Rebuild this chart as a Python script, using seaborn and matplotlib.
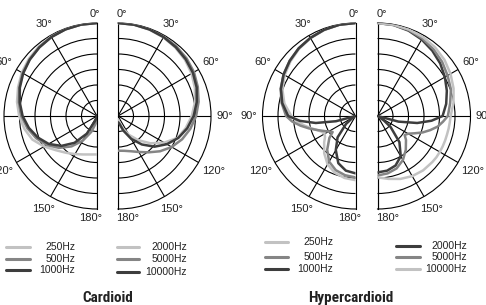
import numpy as np
import pandas as pd
import matplotlib
matplotlib.use("Agg")
import matplotlib.pyplot as plt
from matplotlib.lines import Line2D
from matplotlib.transforms import ScaledTranslation
from matplotlib import font_manager
import seaborn as sns

# polar response in dB (0 = on axis)
card_angles = [0, 10, 20, 30, 40, 50, 60, 70, 80, 90, 100, 110, 120, 130, 140, 150, 160, 170, 180]
card_250 = [0, -0.05, -0.2, -0.4, -0.8, -1.3, -2.0, -2.9, -3.8, -4.9, -6.2, -7.8, -10.3, -12.8, -14.5, -15.8, -16.8, -17.4, -17.6]
card_500 = [0, -0.06, -0.25, -0.5, -1.0, -1.6, -2.3, -3.3, -4.4, -5.6, -7.2, -9.1, -11.3, -14.0, -17.2, -20.8, -24.5, -27.5, -28.5]
card_1000 = [0, -0.07, -0.27, -0.6, -1.1, -1.7, -2.5, -3.5, -4.7, -6.0, -7.7, -9.7, -12.0, -15.0, -18.7, -23.4, -28.5, -30, -30]
card_2000 = [0, -0.1, -0.35, -0.7, -1.2, -1.8, -2.6, -3.6, -4.8, -6.2, -7.8, -9.5, -12.8, -16.3, -19.8, -23.0, -26.0, -28.0, -29.0]
card_5000 = [0, -0.05, -0.2, -0.4, -0.7, -1.1, -1.7, -2.6, -3.6, -4.8, -6.3, -8.0, -10.0, -12.3, -14.7, -16.6, -17.9, -18.6, -18.8]
card_10000 = [0, -0.1, -0.3, -0.6, -1.0, -1.5, -2.1, -3.0, -4.2, -5.6, -7.3, -9.3, -11.8, -14.6, -18.0, -21.5, -25.0, -27.5, -28.0]

hyp_angles = [0, 10, 20, 30, 40, 50, 60, 70, 80, 90, 95, 100, 105, 110, 115, 120, 125, 130, 140, 150, 160, 170, 180]
hyp_250 = [0, -0.1, -0.5, -1.0, -1.7, -2.6, -3.6, -4.9, -6.7, -9.3, -11.0, -13.0, -15.0, -16.8, -18.0, -18.5, -18.0, -16.8, -14.3, -12.0, -10.5, -9.7, -9.3]
hyp_500 = [0, -0.1, -0.4, -0.9, -1.5, -2.3, -3.2, -4.3, -5.8, -7.6, -9.5, -12.0, -14.5, -16.8, -18.6, -20.0, -21.0, -19.0, -15.8, -13.0, -11.4, -10.6, -10.2]
hyp_1000 = [0, -0.1, -0.4, -0.9, -1.5, -2.3, -3.2, -4.4, -6.0, -8.3, -12.0, -17.0, -23.5, -30, -30, -30, -28.5, -26.0, -21.0, -17.3, -13.8, -12.1, -11.5]
hyp_2000 = [0, -0.2, -0.7, -1.5, -2.5, -3.6, -4.9, -6.2, -7.5, -9.0, -12.5, -17.0, -23.0, -30, -30, -30, -27.5, -24.5, -19.0, -15.0, -13.0, -12.1, -11.8]
hyp_5000 = [0, -0.15, -0.5, -1.1, -1.9, -2.8, -3.9, -4.8, -6.2, -7.3, -8.8, -10.3, -12.4, -14.5, -16.8, -18.6, -19.3, -18.0, -15.8, -13.6, -12.0, -11.2, -10.8]
hyp_10000 = [0, -0.1, -0.3, -0.6, -1.1, -1.8, -2.8, -3.9, -5.1, -6.4, -6.6, -6.7, -6.8, -6.8, -6.8, -6.8, -6.8, -6.9, -7.1, -7.6, -8.4, -9.4, -10.2]

spoke_angles = [0, 30, 60, 90, 120, 150, 180]
ring_levels = [-25, -20, -15, -10, -5]

LIGHT, MID, DARK = "#c2c2c2", "#858585", "#3d3d3d"
TXT = "#222222"

sns.set_theme(style="white")
plt.rcParams["font.family"] = ["Liberation Sans", "DejaVu Sans"]

W, H = 486, 305
R = 93
LABEL_PT = 8
fig = plt.figure(figsize=(W / 100, H / 100), dpi=100)

# sideways nudge (px) of the 0/180 labels, per side of the pair
end_shift = {"left": {0: -2, 180: -6}, "right": {0: 4, 180: 10}}


def label_offset(a, text, sign):
    # keep a constant gap between the circle and the label's nearest edge
    em = LABEL_PT * 100 / 72
    half_w = em * (0.556 * (len(text) - 1) + 0.4) / 2
    half_h = 4.0
    t = np.deg2rad(a)
    d = 5 + half_w * abs(np.sin(t)) + half_h * abs(np.cos(t))
    return sign * np.sin(t) * d, np.cos(t) * d


def half_polar(cx, cy, side, angles, series, colors):
    # polar axes keep a square box; the half disc is centred inside it
    mid = cx - R / 2 if side == "left" else cx + R / 2
    ax = fig.add_axes([(mid - R) / W, 1 - (cy + R) / H, 2 * R / W, 2 * R / H], projection="polar")
    ax.set_theta_zero_location("N")
    ax.set_theta_direction(1 if side == "left" else -1)
    ax.set_thetamin(0)
    ax.set_thetamax(180)

    rows = []
    for name, vals in series.items():
        for a, v in zip(angles, vals):
            rows.append({"theta": np.deg2rad(a), "db": v, "freq": name})
    df = pd.DataFrame(rows)
    sns.lineplot(data=df, x="theta", y="db", hue="freq", hue_order=list(series),
                 palette=dict(zip(series, colors)), sort=False, estimator=None,
                 legend=False, lw=1.8, ax=ax, zorder=3)

    ax.set_rlim(-30, 0)
    ax.set_yticks(ring_levels)
    ax.set_yticklabels([])
    labels = [f"{a}°" for a in spoke_angles]
    ax.set_thetagrids(spoke_angles, labels, fontsize=LABEL_PT, color=TXT)
    ax.tick_params(axis="x", length=0, pad=-7)  # polar adds 7pt itself
    ax.tick_params(axis="y", length=0)
    ax.grid(True, color="black", lw=0.8)
    for sp in ax.spines.values():
        sp.set_color("black")
        sp.set_linewidth(0.8)
    ax.set_xlabel("")
    ax.set_ylabel("")

    sign = -1 if side == "left" else 1
    base = ax.get_xaxis_text1_transform(0)[0]
    for a, txt, tick in zip(spoke_angles, labels, ax.xaxis.get_major_ticks()):
        dx, dy = label_offset(a, txt, sign)
        dx += end_shift[side].get(a, 0)
        shift = ScaledTranslation(dx / 100, dy / 100, fig.dpi_scale_trans)
        tick.label1.set_transform(base + shift + tick._text1_translate)
    return ax


half_polar(97, 116, "left", card_angles,
           {"250Hz": card_250, "500Hz": card_500, "1000Hz": card_1000},
           [LIGHT, MID, DARK])
half_polar(118, 116, "right", card_angles,
           {"2000Hz": card_2000, "5000Hz": card_5000, "10000Hz": card_10000},
           [LIGHT, MID, DARK])
half_polar(355.5, 116, "left", hyp_angles,
           {"250Hz": hyp_250, "500Hz": hyp_500, "1000Hz": hyp_1000},
           [LIGHT, MID, DARK])
half_polar(377.5, 116, "right", hyp_angles,
           {"2000Hz": hyp_2000, "5000Hz": hyp_5000, "10000Hz": hyp_10000},
           [DARK, MID, LIGHT])


def key(x0, x1, xt, ys, labels, colors):
    for y, lab, c in zip(ys, labels, colors):
        fig.add_artist(Line2D([x0 / W, x1 / W], [1 - y / H] * 2, color=c, lw=2.2))
        fig.text(xt / W, 1 - y / H, lab, ha="right", va="center", fontsize=7.5, color=TXT)


key(6, 30, 75, [247, 258.5, 270], ["250Hz", "500Hz", "1000Hz"], [LIGHT, MID, DARK])
key(117, 139, 187, [247, 259, 272], ["2000Hz", "5000Hz", "10000Hz"], [LIGHT, MID, DARK])
key(265, 288, 333, [242, 257, 269], ["250Hz", "500Hz", "1000Hz"], [LIGHT, MID, DARK])
key(396, 420, 467, [246, 257, 269], ["2000Hz", "5000Hz", "10000Hz"], [DARK, MID, LIGHT])

# condensed bold for the captions if any such face is installed
installed = {(f.name, f.stretch) for f in font_manager.fontManager.ttflist}
title_kw = dict(family="Liberation Sans", fontsize=9.5)
for fam in ["Liberation Sans Narrow", "Roboto Condensed", "Open Sans Condensed"]:
    if any(n == fam for n, _ in installed):
        title_kw = dict(family=fam, fontsize=11)
        break
else:
    if ("DejaVu Sans", "condensed") in installed:
        title_kw = dict(family="DejaVu Sans", fontstretch="condensed", fontsize=10.5)

fig.text(108 / W, 1 - 298 / H, "Cardioid", ha="center", va="center",
         fontweight="bold", color=TXT, **title_kw)
fig.text(351 / W, 1 - 298 / H, "Hypercardioid", ha="center", va="center",
         fontweight="bold", color=TXT, **title_kw)

fig.savefig("out.png", dpi=100)
